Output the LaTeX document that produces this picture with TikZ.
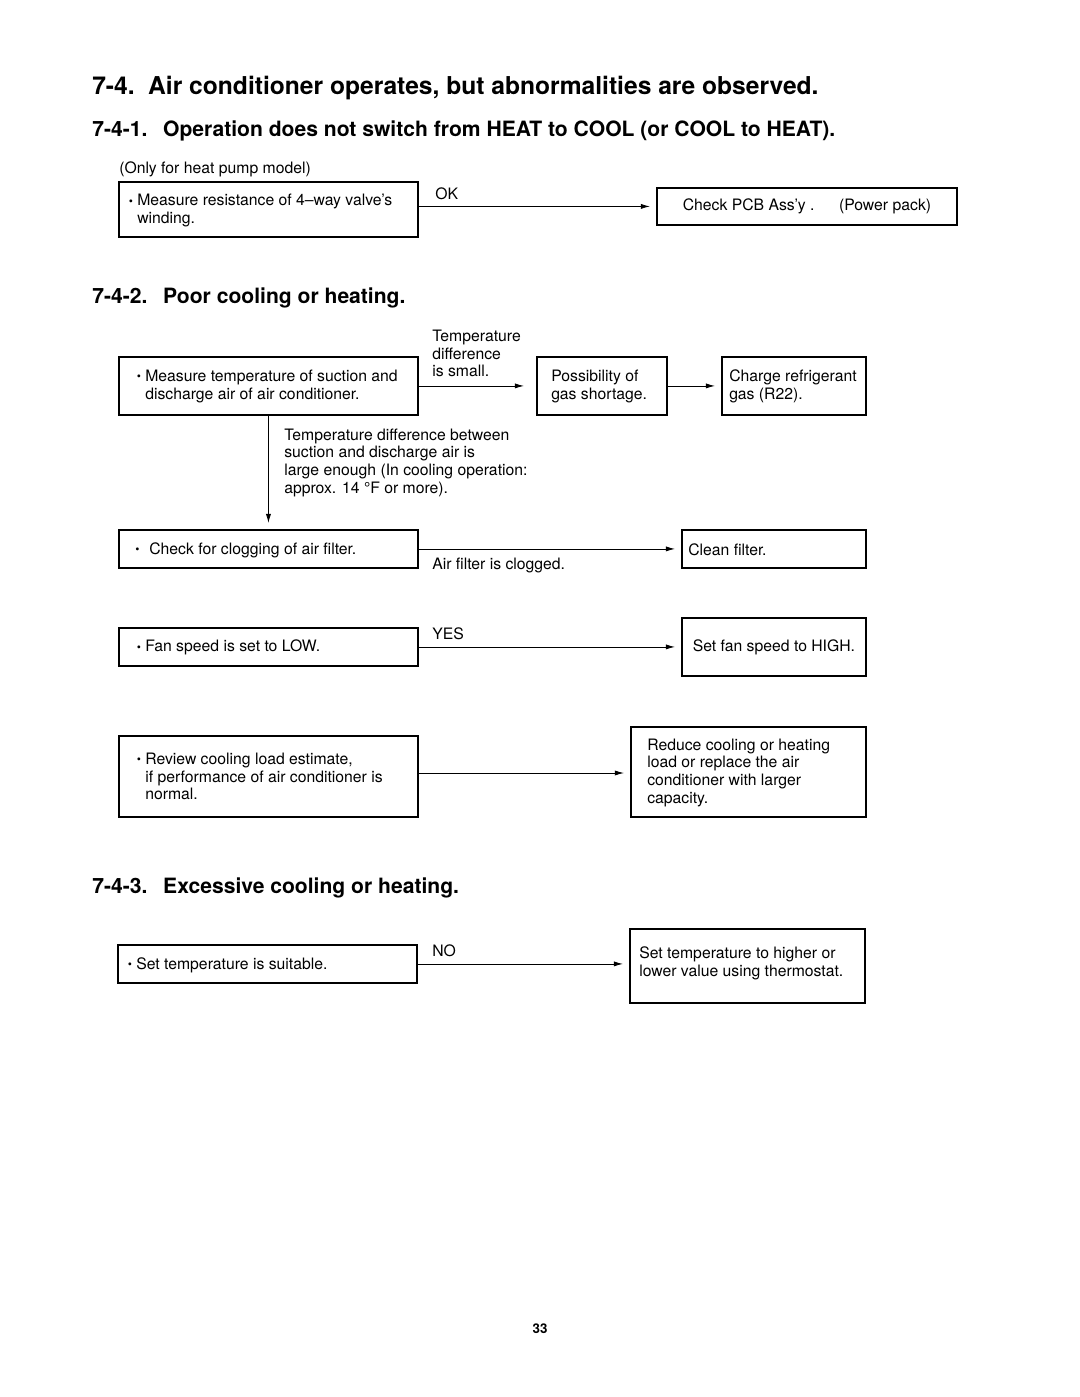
\documentclass[tikz,border=0pt]{standalone}
\usepackage{fontspec}
\setmainfont{TeX Gyre Heros}
\usetikzlibrary{arrows.meta}
\newcommand{\bodyfont}{\fontsize{11.2}{12.6}\selectfont}
\newcommand{\hdfont}{\fontsize{17.5}{20}\selectfont\bfseries}
\newcommand{\subfont}{\fontsize{15}{17}\selectfont\bfseries}
\newcommand{\itm}[1][3pt]{\llap{\raisebox{0.4pt}{\fontsize{8.5}{8.5}\selectfont\textbullet}\hspace{#1}}}
\tikzset{
  box/.style={draw, line width=1.3pt, anchor=north west, inner sep=0pt, font=\bodyfont},
  txt/.style={anchor=west, align=left, inner sep=0pt, yshift=-1.5pt, font=\bodyfont},
  arr/.style={line width=0.6pt, -{Latex[length=2.3mm,width=1.3mm]}, shorten >=0.15cm}
}
\begin{document}
\begin{tikzpicture}[x=0.025cm, y=-0.025cm]
  \useasboundingbox (0,0) rectangle (1080,1397);

  \node[txt, font=\hdfont] (title) at (92,86)
    {7-4.\hspace{0.55em}Air conditioner operates, but abnormalities are observed.};
  \node[txt, font=\subfont] (head1) at (92,129)
    {7-4-1.\hspace{0.75em}Operation does not switch from HEAT to COOL (or COOL to HEAT).};
  \node[txt, font=\subfont] (head2) at (92,296) {7-4-2.\hspace{0.75em}Poor cooling or heating.};
  \node[txt, font=\subfont] (head3) at (92,886) {7-4-3.\hspace{0.75em}Excessive cooling or heating.};

  % heat pump check
  \node[txt] (note) at (119,167) {(Only for heat pump model)};
  \node[box, minimum width=7.475cm, minimum height=1.375cm] (valve) at (118,181) {};
  \node[txt] (valve-t) at (137,208.5) {\itm Measure resistance of 4--way valve's\\winding.};
  \node[box, minimum width=7.5cm, minimum height=0.925cm] (pcb) at (656,187)
    {Check PCB Ass'y .\hspace{1.55em}(Power pack)};
  \draw[arr] (valve.east |- pcb.west) -- (pcb.west);
  \node[txt, anchor=base west] (ok) at (435,197) {OK};

  % poor cooling or heating
  \node[box, minimum width=7.475cm, minimum height=1.45cm] (temp) at (118,356) {};
  \node[txt] (temp-t) at (145,384) {\itm Measure temperature of suction and\\discharge air of air conditioner.};
  \node[box, minimum width=3.25cm, minimum height=1.45cm] (gas) at (536,356) {};
  \node[txt] (gas-t) at (551,384) {Possibility of\\gas shortage.};
  \node[box, minimum width=3.6cm, minimum height=1.45cm] (charge) at (721,356) {};
  \node[txt] (charge-t) at (729,384) {Charge refrigerant\\gas (R22).};
  \draw[arr, shorten >=0.3cm] (temp.east) -- (gas.west);
  \draw[arr] (gas.east) -- (charge.west);
  \node[txt] (small) at (432,351.5) {Temperature\\difference\\is small.};

  \node[box, minimum width=7.475cm, minimum height=0.95cm] (filter) at (118,529) {};
  \node[txt] (filter-t) at (149,548) {\itm[7pt]Check for clogging of air filter.};
  \draw[arr] (temp.south) -- (filter.north);
  \node[txt] (large) at (284,460.5)
    {Temperature difference between\\suction and discharge air is\\large enough (In cooling operation:\\approx. 14 °F or more).};
  \node[box, minimum width=4.6cm, minimum height=0.95cm] (clean) at (681,529) {};
  \node[txt] (clean-t) at (688,548) {Clean filter.};
  \draw[arr] (filter.east) -- (clean.west);
  \node[txt] (clogged) at (432,563) {Air filter is clogged.};

  \node[box, minimum width=7.475cm, minimum height=0.95cm] (fan) at (118,627) {};
  \node[txt] (fan-t) at (145,645.5) {\itm Fan speed is set to LOW.};
  \node[box, minimum width=4.6cm, minimum height=1.45cm] (high) at (681,617) {Set fan speed to HIGH.};
  \draw[arr] (fan.east) -- (fan.east -| high.west);
  \node[txt, anchor=base west] (yes) at (432,637) {YES};

  \node[box, minimum width=7.475cm, minimum height=2.025cm] (load) at (118,735) {};
  \node[txt] (load-t) at (145,774.5)
    {\itm Review cooling load estimate,\\if performance of air conditioner is\\normal.};
  \node[box, minimum width=5.875cm, minimum height=2.25cm] (reduce) at (630,726) {};
  \node[txt] (reduce-t) at (647,770.5)
    {Reduce cooling or heating\\load or replace the air\\conditioner with larger\\capacity.};
  \draw[arr] (load.east |- 0,773) -- (load.east |- 0,773 -| reduce.west);

  % excessive cooling or heating
  \node[box, minimum width=7.475cm, minimum height=0.95cm] (set) at (117,944) {};
  \node[txt] (set-t) at (136,963) {\itm Set temperature is suitable.};
  \node[box, minimum width=5.875cm, minimum height=1.85cm] (thermo) at (629,928) {};
  \node[txt] (thermo-t) at (639,961.5) {Set temperature to higher or\\lower value using thermostat.};
  \draw[arr] (set.east) -- (set.east -| thermo.west);
  \node[txt, anchor=base west] (no) at (432,954) {NO};

  \node[font=\fontsize{9.5}{11}\selectfont\bfseries] (page) at (540,1329) {33};
\end{tikzpicture}
\end{document}
